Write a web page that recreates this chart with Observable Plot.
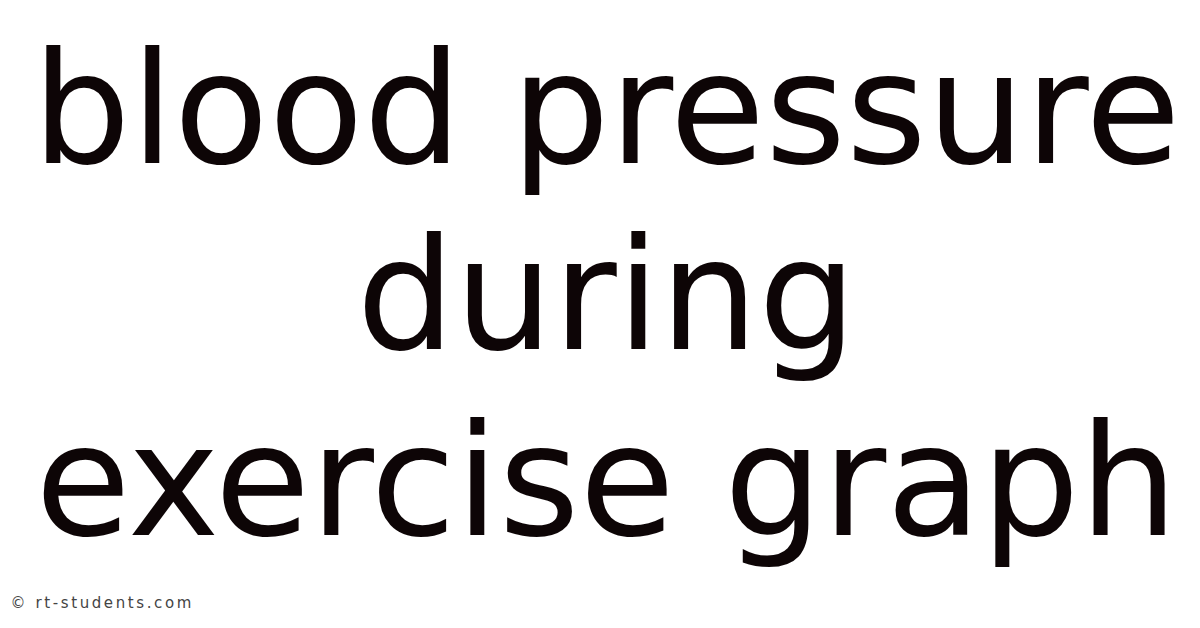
<!DOCTYPE html>
<html>
<head>
<meta charset="utf-8">
<script src="https://cdn.jsdelivr.net/npm/d3@7"></script>
<script src="https://cdn.jsdelivr.net/npm/@observablehq/plot@0.6"></script>
<style>
  html, body { margin: 0; padding: 0; background: #ffffff; }
  #chart svg { display: block; }
</style>
</head>
<body>
<div id="chart"></div>
<script>
// Title lines of the card
const titleLines = ["blood pressure", "during", "exercise graph"];
const lineIndex = [0, 1, 2];
// Watermark
const watermark = ["© rt-students.com"];

const titleData = titleLines.map((t, i) => ({text: t, row: lineIndex[i]}));

const plot = Plot.plot({
  width: 1200,
  height: 628,
  marginTop: 162,
  marginBottom: 94,
  marginLeft: 12,
  marginRight: 0,
  x: {domain: [0, 1], axis: null},
  y: {type: "point", domain: lineIndex, padding: 0, axis: null},
  style: {background: "#ffffff"},
  marks: [
    Plot.text(titleData, {
      x: () => 0.5,
      y: "row",
      text: "text",
      textAnchor: "middle",
      lineAnchor: "bottom",
      fontSize: 155,
      fontFamily: "DejaVu Sans",
      fill: "#0d0506"
    }),
    Plot.text(watermark, {
      frameAnchor: "bottom-left",
      text: d => d,
      textAnchor: "start",
      lineAnchor: "bottom",
      dx: -2,
      dy: 73,
      fontSize: 15,
      fontFamily: "DejaVu Sans",
      fill: "#444444"
    })
  ]
});

d3.select(plot).selectAll("text").each(function() {
  const el = d3.select(this);
  if (watermark.includes(el.text())) el.style("letter-spacing", "2.6px");
});

document.getElementById("chart").appendChild(plot);
</script>
</body>
</html>
